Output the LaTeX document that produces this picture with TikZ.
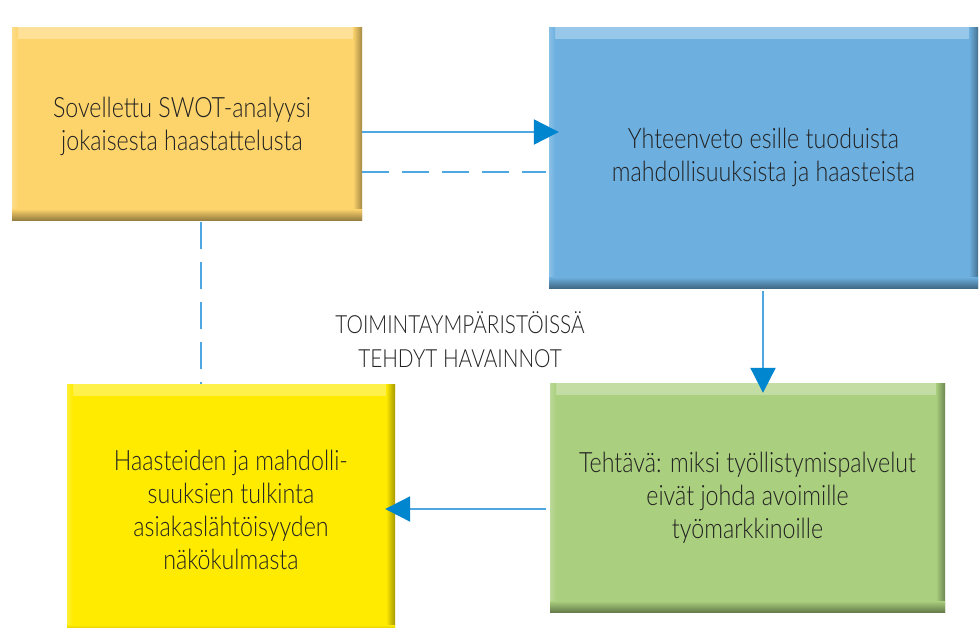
\documentclass[tikz,border=0pt]{standalone}
\usepackage{fontspec}
\setmainfont{Lato}[UprightFont=* Light, FakeStretch=0.83]
\usetikzlibrary{arrows.meta,calc}
\definecolor{cOrange}{HTML}{FDD46C}
\definecolor{cBlue}{HTML}{6DB0E0}
\definecolor{cGreen}{HTML}{AACF7E}
\definecolor{cYellow}{HTML}{FFEB00}
\definecolor{cLine}{HTML}{4FA7E1}
\definecolor{cHead}{HTML}{0086CF}
\definecolor{cText}{HTML}{222222}
\tikzset{
  bevelbox/.style={draw=none, fill=#1, inner sep=0pt, align=center,
    font=\fontsize{28}{33}\selectfont, text=cText,
    path picture={
      \shade[top color=#1!70!white, bottom color=#1]
        (path picture bounding box.north west) rectangle ([yshift=-11pt]path picture bounding box.north east);
      \shade[left color=#1!80!white, right color=#1]
        (path picture bounding box.north west) rectangle ([xshift=6pt]path picture bounding box.south west);
      \shade[left color=#1, right color=#1!65!black]
        ([xshift=-9pt]path picture bounding box.north east) rectangle (path picture bounding box.south east);
      \shade[top color=#1, bottom color=#1!60!black]
        ([yshift=11pt]path picture bounding box.south west) rectangle (path picture bounding box.south east);
    }},
  conn/.style={draw=cLine, line width=2.2pt},
  arr/.style={conn, -{Triangle[length=25pt,width=25pt,color=cHead]}, shorten >=-10pt},
  dsh/.style={conn, dash pattern=on 27pt off 13pt},
}
\begin{document}
\begin{tikzpicture}[x=1pt,y=-1pt]
\useasboundingbox (0,0) rectangle (979,627);
\node[bevelbox=cOrange, minimum width=350pt, minimum height=193pt, text depth=0pt] (A) at (187,123.5)
  {\hspace*{-10pt}Sovellettu SWOT-analyysi\\\hspace*{-10pt}jokaisesta haastattelusta};
\node[bevelbox=cBlue, minimum width=429pt, minimum height=261pt] (B) at (763.5,157.5)
  {Yhteenveto esille tuoduista\\mahdollisuuksista ja haasteista};
\node[bevelbox=cGreen, minimum width=395pt, minimum height=229pt] (C) at (747.5,497.5)
  {Tehtävä: miksi työllistymispalvelut\\eivät johda avoimille\\työmarkkinoille};
\node[bevelbox=cYellow, minimum width=328pt, minimum height=252pt] (D) at (231,510)
  {Haasteiden ja mahdolli-\\suuksien tulkinta\\asiakaslähtöisyyden\\näkökulmasta};
\node[font=\fontsize{25}{34}\selectfont, text=cText, align=center] (L) at (460,340)
  {TOIMINTAYMPÄRISTÖISSÄ\\TEHDYT HAVAINNOT};
\coordinate (a1) at ($(A.east)+(0,8.5)$);
\coordinate (a2) at ($(A.east)+(0,48.5)$);
\coordinate (a3) at ($(A.south)+(14,2)$);
\coordinate (b1) at ($(B.south)+(-0.5,3)$);
\coordinate (c1) at ($(C.west)+(-4,11.5)$);
\draw[arr] (a1) -- (a1 -| B.west);
\draw[dsh] (a2) -- ($(a2 -| B.west)+(-3,0)$);
\draw[dsh] (a3) -- (a3 |- D.north);
\draw[arr] (b1) -- (b1 |- C.north);
\draw[arr] (c1) -- (c1 -| D.east);
\end{tikzpicture}
\end{document}
